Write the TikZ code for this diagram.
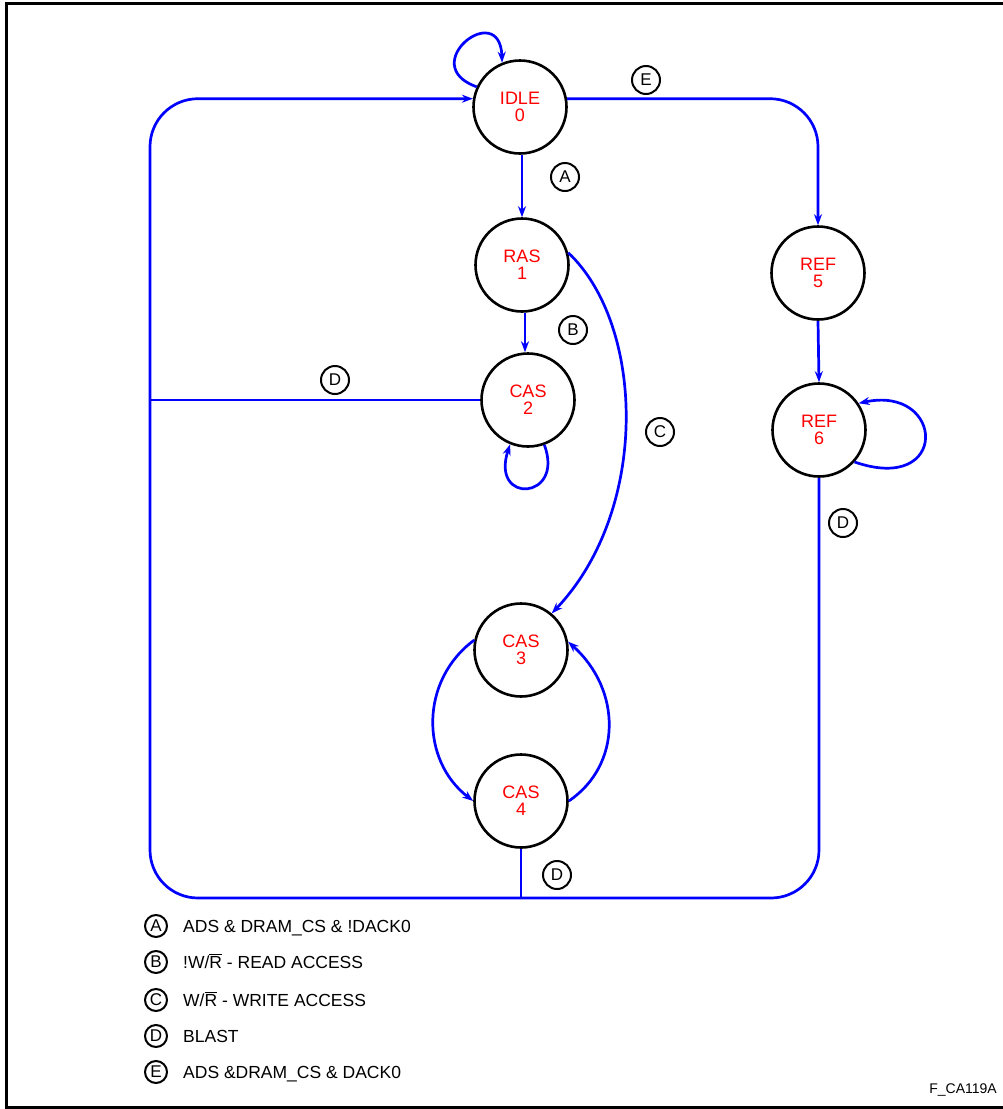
\documentclass[tikz,border=0pt]{standalone}
\usepackage{fontspec}
\setmainfont{Liberation Sans}
\usetikzlibrary{arrows.meta,calc}
\begin{document}
\begin{tikzpicture}[x=1pt,y=-1pt,
 state/.style={circle,draw=black,line width=2.6pt,minimum size=93pt,inner sep=0pt,text=red,align=center,font=\fontsize{18}{17}\selectfont},
 lbl/.style={circle,draw=black,line width=2pt,minimum size=28pt,inner sep=0pt,font=\fontsize{17}{17}\selectfont},
 leg/.style={circle,draw=black,line width=2pt,minimum size=22pt,inner sep=0pt,font=\fontsize{17}{17}\selectfont},
 legtxt/.style={anchor=base west,inner sep=0pt,font=\fontsize{17.5}{17.5}\selectfont},
 wire/.style={draw=blue,line width=2.7pt},
 arr/.style={wire,-{Stealth[length=11pt,width=8pt]}}]
\useasboundingbox (0,0) rectangle (1002,1109);
% frame
\draw[line width=3pt,line cap=rect] (1002,3) -- (6,3) -- (6,1107) -- (1002,1107);
% states
\node[state] (IDLE) at (520,107) {IDLE\\0};
\node[state] (RAS) at (522,265) {RAS\\1};
\node[state] (CAS2) at (528,400) {CAS\\2};
\node[state] (REF5) at (818,273) {REF\\5};
\node[state] (REF6) at (819,430) {REF\\6};
\node[state] (CAS3) at (521,650) {CAS\\3};
\node[state] (CAS4) at (521,801) {CAS\\4};
\coordinate (jl) at (150,398);
\coordinate (jb) at (521,898);
\coordinate (bl) at (150,898);
% connectors
\draw[arr,rounded corners=48pt] (IDLE.10) -| (REF5.north);
\draw[arr] (REF5.south) -- (REF6.north);
\draw[arr,rounded corners=48pt] (REF6.south) |- (bl) |- (IDLE.170);
\draw[wire] (CAS4.south) -- (jb);
\draw[wire] (CAS2.west) -- (CAS2.west -| jl);
\draw[arr] (RAS.north |- IDLE.south) -- (RAS.north);
\draw[arr] ($(RAS.south)+(3,0)$) -- ($(CAS2.north)+(-3,0)$);
\draw[arr] (RAS.15) .. controls (645,325) and (650,510) .. (CAS3.50);
\draw[arr] (CAS3.168) .. controls (420,680) and (420,760) .. (CAS4.180);
\draw[arr] (CAS4.0) .. controls (622,765) and (622,690) .. (CAS3.10);
\draw[arr] (IDLE.155) .. controls (415,65) and (500,-2) .. (IDLE.112);
\draw[arr] (CAS2.-70) .. controls (565,500) and (490,505) .. (CAS2.-112);
\draw[arr] (REF6.-42) .. controls (950,495) and (945,385) .. (REF6.34);
% condition labels
\node[lbl] (lE) at (646,80) {E};
\node[lbl] (lA) at (565,177) {A};
\node[lbl] (lB) at (573,330) {B};
\node[lbl] (lD1) at (335,380) {D};
\node[lbl] (lC) at (660,432) {C};
\node[lbl] (lD2) at (843,523) {D};
\node[lbl] (lD3) at (557,875) {D};
% legend
\node[leg] (gA) at (156,926) {A};
\node[legtxt] (tA) at (183,932) {ADS \& DRAM\_CS \& !DACK0};
\node[leg] (gB) at (156,962) {B};
\node[legtxt] (tB) at (183,968) {!W/$\overline{\hbox{R}}$ - READ ACCESS};
\node[leg] (gC) at (156,1000) {C};
\node[legtxt] (tC) at (183,1006) {W/$\overline{\hbox{R}}$ - WRITE ACCESS};
\node[leg] (gD) at (156,1036) {D};
\node[legtxt] (tD) at (183,1042) {BLAST};
\node[leg] (gE) at (156,1072) {E};
\node[legtxt] (tE) at (183,1078) {ADS \&DRAM\_CS \& DACK0};
\node[anchor=base east,inner sep=0pt,font=\fontsize{14}{14}\selectfont] (fig) at (997,1093) {F\_CA119A};
\end{tikzpicture}
\end{document}
